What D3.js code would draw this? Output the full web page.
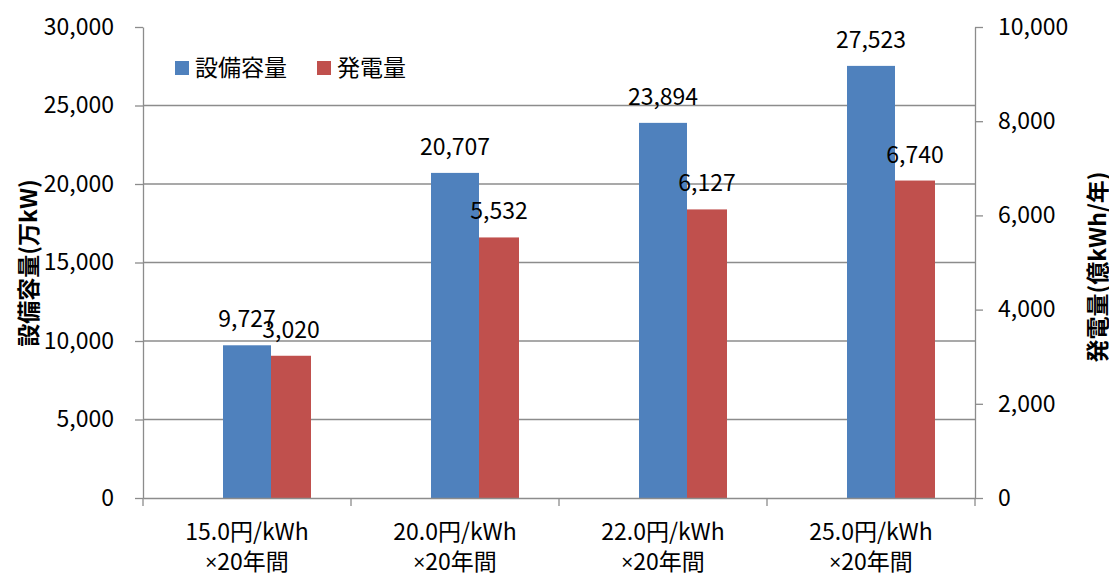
<!DOCTYPE html>
<html><head><meta charset="utf-8">
<script src="https://cdn.jsdelivr.net/npm/d3@7"></script>
<style>
html,body{margin:0;padding:0;background:#fff;}
svg{display:block;font-family:"Noto Sans CJK JP","Noto Sans",sans-serif;}
</style></head>
<body>
<script>
const categories = [["15.0円/kWh","×20年間"],["20.0円/kWh","×20年間"],["22.0円/kWh","×20年間"],["25.0円/kWh","×20年間"]];
const capacity = [9727, 20707, 23894, 27523];      // 設備容量 (万kW), left axis
const generation = [3020, 5532, 6127, 6740];       // 発電量 (億kWh/年), right axis
const leftTicks = [0, 5000, 10000, 15000, 20000, 25000, 30000];
const rightTicks = [0, 2000, 4000, 6000, 8000, 10000];
const seriesNames = ["設備容量", "発電量"];
const colors = ["#4F81BD", "#C0504D"];

const W = 1109, H = 574;
const m = {left: 143, right: 975, top: 27, bottom: 498};
const fs = 23;
const fmt = d3.format(",");

const svg = d3.select("body").append("svg").attr("width", W).attr("height", H);

const x = d3.scaleBand().domain(d3.range(categories.length)).range([m.left, m.right]).padding(0);
const yL = d3.scaleLinear().domain([0, 30000]).range([m.bottom, m.top]);
const yR = d3.scaleLinear().domain([0, 10000]).range([m.bottom, m.top]);
const bw = x.bandwidth();
const blueW = bw * 48 / 208, redW = bw * 40 / 208;

// gridlines
svg.append("g").selectAll("line").data(leftTicks.filter(t => t > 0 && t < 30000)).join("line")
  .attr("x1", m.left).attr("x2", m.right).attr("y1", d => yL(d)).attr("y2", d => yL(d))
  .attr("stroke", "#8c8c8c").attr("stroke-width", 1.3);

// bars
const g = svg.append("g");
g.selectAll("rect.cap").data(capacity).join("rect").attr("class", "cap")
  .attr("x", (d, i) => x(i) + bw / 2 - blueW / 2).attr("width", blueW)
  .attr("y", d => yL(d)).attr("height", d => yL(0) - yL(d)).attr("fill", colors[0]);
g.selectAll("rect.gen").data(generation).join("rect").attr("class", "gen")
  .attr("x", (d, i) => x(i) + bw / 2 + blueW / 2).attr("width", redW)
  .attr("y", d => yR(d)).attr("height", d => yR(0) - yR(d)).attr("fill", colors[1]);

// data labels
g.selectAll("text.capl").data(capacity).join("text").attr("class", "capl")
  .attr("x", (d, i) => x(i) + bw / 2).attr("y", d => yL(d) - 18)
  .attr("text-anchor", "middle").attr("font-size", fs).attr("fill", "#000").text(d => fmt(d));
g.selectAll("text.genl").data(generation).join("text").attr("class", "genl")
  .attr("x", (d, i) => x(i) + bw / 2 + blueW / 2 + redW / 2).attr("y", d => yR(d) - 18)
  .attr("text-anchor", "middle").attr("font-size", fs).attr("fill", "#000").text(d => fmt(d));

// axes
const axisColor = "#8c8c8c";
const leftAxis = svg.append("g").attr("transform", `translate(${m.left},0)`)
  .call(d3.axisLeft(yL).tickValues(leftTicks).tickFormat(fmt).tickSizeInner(8).tickSizeOuter(0).tickPadding(21));
const rightAxis = svg.append("g").attr("transform", `translate(${m.right},0)`)
  .call(d3.axisRight(yR).tickValues(rightTicks).tickFormat(fmt).tickSizeInner(8).tickSizeOuter(0).tickPadding(15));
const bottomAxis = svg.append("g").attr("transform", `translate(0,${m.bottom})`)
  .call(d3.axisBottom(x).tickValues([]).tickSizeOuter(0));
// category boundary ticks
bottomAxis.selectAll("line.cb").data(d3.range(categories.length + 1)).join("line").attr("class", "cb")
  .attr("x1", i => i < categories.length ? x(i) : m.right).attr("x2", i => i < categories.length ? x(i) : m.right)
  .attr("y1", 0).attr("y2", 8).attr("stroke", axisColor).attr("stroke-width", 1.3);
// category labels (two lines; "×" drawn in a Latin font so it stays narrow)
const cg = svg.append("g").selectAll("g").data(categories).join("g");
cg.each(function (lines, i) {
  const cx = x(i) + bw / 2;
  lines.forEach((line, j) => {
    const t = d3.select(this).append("text").attr("x", cx).attr("y", 540 + j * 30)
      .attr("text-anchor", "middle").attr("font-size", fs).attr("fill", "#000");
    line.split(/(×)/).filter(s => s.length).forEach(part => {
      const sp = t.append("tspan").text(part);
      if (part === "×") sp.attr("font-family", '"Open Sans","Noto Sans",sans-serif').attr("font-size", fs - 2);
    });
  });
});

[leftAxis, rightAxis, bottomAxis].forEach(a => {
  a.selectAll(".domain").attr("stroke", axisColor).attr("stroke-width", 1.3);
  a.selectAll(".tick line").attr("stroke", axisColor).attr("stroke-width", 1.3);
  a.selectAll(".tick text").attr("font-size", fs).attr("fill", "#000")
    .attr("font-family", '"Noto Sans CJK JP","Noto Sans",sans-serif');
});

// axis titles
svg.append("text").attr("transform", "translate(37,263) rotate(-90)")
  .attr("text-anchor", "middle").attr("font-size", fs).attr("font-weight", "bold").text("設備容量(万kW)");
svg.append("text").attr("transform", "translate(1106,267) rotate(-90)")
  .attr("text-anchor", "middle").attr("font-size", fs).attr("font-weight", "bold").text("発電量(億kWh/年)");

// legend
const legendX = [175, 317];
const lg = svg.append("g").selectAll("g").data(seriesNames).join("g")
  .attr("transform", (d, i) => `translate(${legendX[i]},61)`);
lg.append("rect").attr("width", 14).attr("height", 14).attr("fill", (d, i) => colors[i]);
lg.append("text").attr("x", 20).attr("y", 15).attr("font-size", fs).attr("fill", "#000").text(d => d);
</script>
</body></html>
